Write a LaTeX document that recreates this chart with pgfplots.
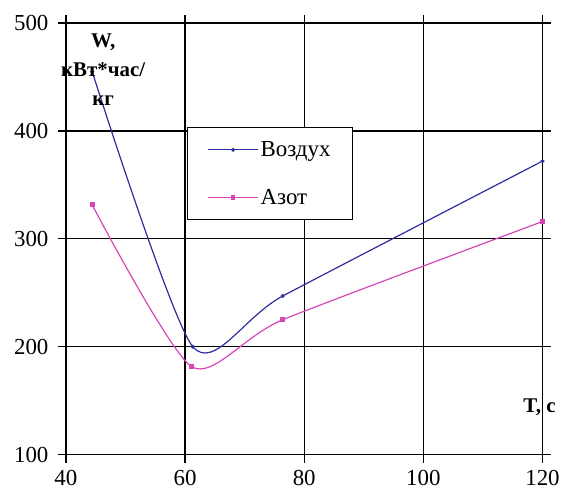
\documentclass[border=0pt]{standalone}
\usepackage{pgfplots}
\pgfplotsset{compat=1.18}
\usepackage{fontspec}
\setmainfont{Liberation Serif}
\definecolor{vblue}{RGB}{45,45,160}
\definecolor{apink}{RGB}{214,70,184}
\begin{document}
\begin{tikzpicture}[x=1bp,y=1bp]
\begin{axis}[
  scale only axis,
  width=477bp, height=432bp,
  xmin=40, xmax=120, ymin=100, ymax=500,
  xtick={40,60,80,100,120}, ytick={100,200,300,400,500},
  grid=major,
  clip mode=individual,
  major grid style={black, line width=1.3pt},
  axis line style={black, line width=1.3pt},
  tick style={black, line width=1.3pt},
  tick align=outside, major tick length=8bp,
  /pgf/number format/assume math mode=true,
  ticklabel style={font=\fontsize{23}{26}\selectfont},
  xticklabel style={yshift=-4bp},
  yticklabel style={xshift=-6bp},
  legend style={at={(rel axis cs:0.254,0.759)}, anchor=north west,
    draw=black, line width=1.3pt, fill=white,
    font=\fontsize{23}{26}\selectfont,
    row sep=27bp, inner xsep=20bp, inner ysep=12bp,
    /tikz/every even column/.append style={column sep=2bp}},
  legend cell align=left,
  legend image code/.code={\draw[#1, line width=1pt] (0bp,0bp) -- (25bp,0bp) -- (50bp,0bp); \path[#1, only marks] plot coordinates {(25bp,0bp)};},
]
\addplot[vblue, line width=1.2pt, smooth, tension=0.4, mark=*, mark size=1.3pt, mark options={solid}]
  coordinates {(44.4,455) (61.3,200) (76.4,247) (120,372)};
\addlegendentry{Воздух}
\addplot[apink, line width=1.2pt, smooth, tension=0.4, mark=square*, mark size=1.8pt, mark options={solid}]
  coordinates {(44.4,331.5) (61.1,181.5) (76.4,225) (120,316)};
\addlegendentry{Азот}
\node[font=\bfseries\fontsize{21}{29}\selectfont, align=center, anchor=north] at (rel axis cs:0.078,0.982) {W,\\кВт*час/\\кг};
\node[font=\bfseries\fontsize{21}{24}\selectfont, anchor=center] at (axis cs:119.5,143.5) {T, с};
\end{axis}
\path (current axis.south west) ++(-66bp,-35bp) rectangle ++(563bp,490bp);
\end{tikzpicture}
\end{document}
